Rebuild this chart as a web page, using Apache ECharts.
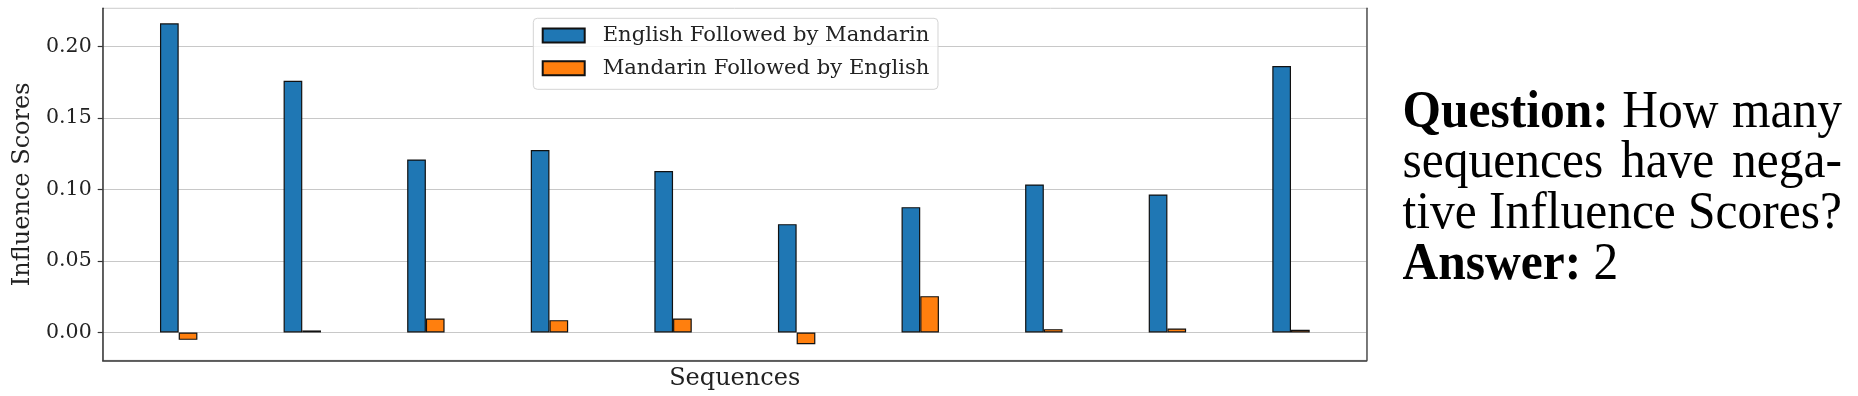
<!DOCTYPE html>
<html><head><meta charset="utf-8">
<script src="https://cdn.jsdelivr.net/npm/echarts@6/dist/echarts.min.js"></script>
<style>
html,body{margin:0;padding:0;background:#fff;}
#chart{position:absolute;left:0;top:0;width:1858px;height:396px;}
#qa{position:absolute;left:1402.5px;top:85.46px;width:439.5px;font-family:'Liberation Serif','Times New Roman',serif;font-size:49.5px;line-height:48.19px;color:#000;transform:scaleY(1.05);transform-origin:0 0;}
#qa .j{display:flex;justify-content:space-between;column-gap:10px;white-space:nowrap;}
#qa .l{white-space:nowrap;}
#qa b{font-weight:bold;}
</style>
</head><body>
<div id="chart"></div>
<div id="qa">
<div class="j"><b>Question:</b><span>How</span><span>many</span></div>
<div class="j"><span>sequences</span><span>have</span><span>nega-</span></div>
<div class="j"><span>tive</span><span>Influence</span><span>Scores?</span></div>
<div class="l"><b>Answer:</b> 2</div>
</div>
<script>
const categories = ['1','2','3','4','5','6','7','8','9','10'];
const seriesNames = ['English Followed by Mandarin','Mandarin Followed by English'];
const englishThenMandarin = [0.2164,0.1762,0.1211,0.1277,0.1130,0.0758,0.0877,0.1036,0.0966,0.1865];
const mandarinThenEnglish = [-0.0052,0.0014,0.0098,0.0086,0.0098,-0.0082,0.0254,0.0023,0.0028,0.0018];
const yTicks = [0,0.05,0.10,0.15,0.20];
const yMin = -0.0195, yMax = 0.2269;
const xTitle = 'Sequences';
const yTitle = 'Influence Scores';

const FONT = 'DejaVu Serif';
const chart = echarts.init(document.getElementById('chart'), null, {renderer:'canvas'});
const gridPos = {top:8.3, bottom:35.7};
chart.setOption({
  animation:false,
  backgroundColor:'#fff',
  grid:[
    Object.assign({left:102.7, right:491.3, show:true, borderColor:'#cccccc', borderWidth:1, backgroundColor:'transparent'}, gridPos),
    Object.assign({left:116.9, right:505.2}, gridPos)
  ],
  legend:{
    orient:'vertical', left:533.3, top:18.3, itemWidth:42, itemHeight:14, itemGap:11.7,
    padding:[6.7,8.7,10.6,8.4], backgroundColor:'rgba(255,255,255,0.8)',
    borderColor:'#d4d4d4', borderWidth:1, borderRadius:4, icon:'rect',
    textStyle:{fontFamily:FONT, fontSize:21.1, color:'#222', padding:[0,0,0,13], lineHeight:20},
    data:seriesNames
  },
  xAxis:[
    {gridIndex:0, type:'value', min:0, max:1, position:'bottom',
     axisLine:{show:true, onZero:false, lineStyle:{color:'#333', width:1.5}},
     axisTick:{show:false}, axisLabel:{show:false}, splitLine:{show:false},
     name:xTitle, nameLocation:'middle', nameGap:6,
     nameTextStyle:{fontFamily:FONT, fontSize:24, color:'#222', verticalAlign:'top'}},
    {gridIndex:1, type:'category', data:categories, show:false}
  ],
  yAxis:[
    {gridIndex:0, type:'value', min:yMin, max:yMax,
     axisLine:{show:true, onZero:false, lineStyle:{color:'#333', width:1.5}},
     axisTick:{show:true, length:5, customValues:yTicks, lineStyle:{color:'#333', width:1.2}},
     axisLabel:{customValues:yTicks, formatter:v=>v.toFixed(2), fontFamily:FONT, fontSize:20.5, color:'#222', margin:11},
     splitLine:{show:true, lineStyle:{color:'#c8c8c8', width:1.2}},
     name:yTitle, nameLocation:'middle', nameGap:64,
     nameTextStyle:{fontFamily:FONT, fontSize:24, color:'#222'}},
    {gridIndex:0, type:'value', position:'right', min:yMin, max:yMax,
     axisLine:{show:true, onZero:false, lineStyle:{color:'#555', width:1.5}},
     axisTick:{show:false}, axisLabel:{show:false}, splitLine:{show:false}},
    {gridIndex:1, type:'value', min:yMin, max:yMax, show:false, splitLine:{show:false}}
  ],
  series:[
    {name:seriesNames[0], type:'bar', xAxisIndex:1, yAxisIndex:2, data:englishThenMandarin,
     barWidth:18.7, barGap:'0%', itemStyle:{color:'#1f77b4', borderColor:'#111', borderWidth:1.2}},
    {name:seriesNames[1], type:'bar', xAxisIndex:1, yAxisIndex:2, data:mandarinThenEnglish,
     barWidth:18.7, barGap:'0%', itemStyle:{color:'#ff7f0e', borderColor:'#111', borderWidth:1.2}}
  ]
});
</script>
</body></html>
